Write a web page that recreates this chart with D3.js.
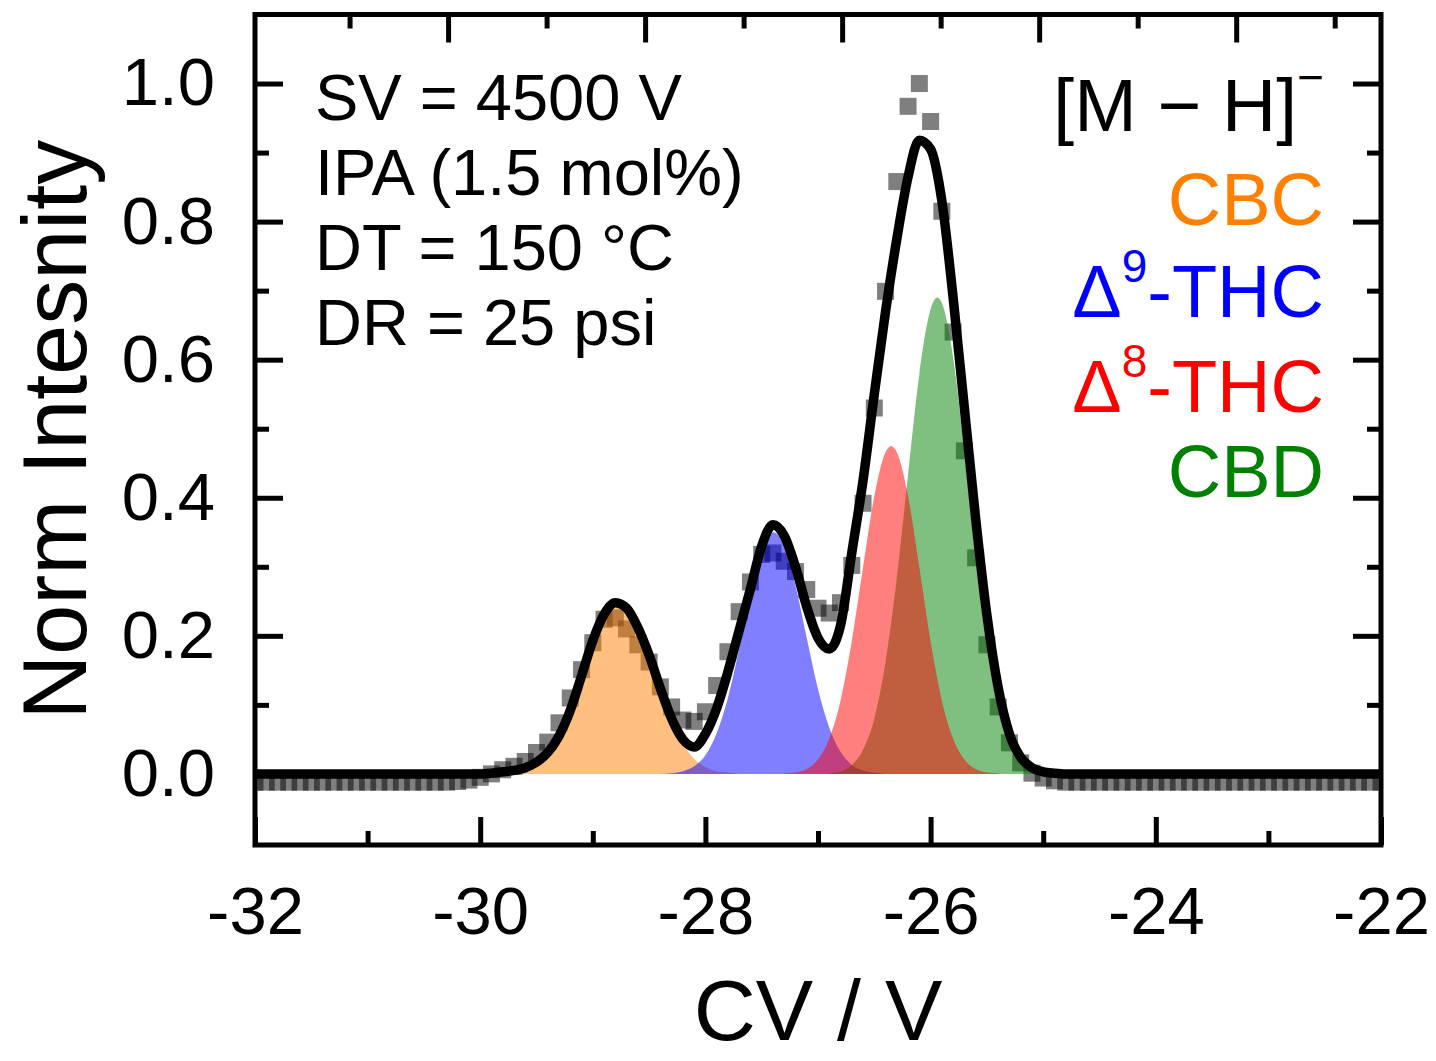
<!DOCTYPE html>
<meta charset="utf-8">
<style>
    body {
        margin: 0;
        background: white;
    }

    svg {
        font-family: "Liberation Sans", Arial, sans-serif;
    }

    .axis path {
        display: none;
    }

    .axis line {
        stroke: black;
        stroke-width: 5;
    }

    .axis text {
        font-size: 67px;
        fill: black;
    }
</style>
<body>
<script src="https://cdn.jsdelivr.net/npm/d3@7"></script>
<script>
    // measured CV scan, 0.1 V steps
    const cvData = [
        -32.0, -31.9, -31.8, -31.7, -31.6, -31.5, -31.4, -31.3, -31.2, -31.1,
        -31.0, -30.9, -30.8, -30.7, -30.6, -30.5, -30.4, -30.3, -30.2, -30.1,
        -30.0, -29.9, -29.8, -29.7, -29.6, -29.5, -29.4, -29.3, -29.2, -29.1,
        -29.0, -28.9, -28.8, -28.7, -28.6, -28.5, -28.4, -28.3, -28.2, -28.1,
        -28.0, -27.9, -27.8, -27.7, -27.6, -27.5, -27.4, -27.3, -27.2, -27.1,
        -27.0, -26.9, -26.8, -26.7, -26.6, -26.5, -26.4, -26.3, -26.2, -26.1,
        -26.0, -25.9, -25.8, -25.7, -25.6, -25.5, -25.4, -25.3, -25.2, -25.1,
        -25.0, -24.9, -24.8, -24.7, -24.6, -24.5, -24.4, -24.3, -24.2, -24.1,
        -24.0, -23.9, -23.8, -23.7, -23.6, -23.5, -23.4, -23.3, -23.2, -23.1,
        -23.0, -22.9, -22.8, -22.7, -22.6, -22.5, -22.4, -22.3, -22.2, -22.1,
        -22.0
    ];
    const intensityData = [
        -0.012, -0.012, -0.012, -0.012, -0.012, -0.012, -0.012, -0.012, -0.012, -0.012,
        -0.012, -0.012, -0.012, -0.012, -0.012, -0.012, -0.012, -0.012, -0.011, -0.009,
        -0.005, 0.000, 0.006, 0.011, 0.018, 0.031, 0.046, 0.074, 0.110, 0.151,
        0.190, 0.224, 0.226, 0.210, 0.187, 0.162, 0.126, 0.097, 0.078, 0.076,
        0.090, 0.128, 0.177, 0.235, 0.278, 0.318, 0.320, 0.308, 0.293, 0.267,
        0.240, 0.233, 0.248, 0.302, 0.392, 0.530, 0.699, 0.858, 0.967, 1.000,
        0.945, 0.815, 0.640, 0.468, 0.313, 0.187, 0.097, 0.045, 0.016, 0.001,
        -0.006, -0.010, -0.012, -0.012, -0.012, -0.012, -0.012, -0.012, -0.012, -0.012,
        -0.012, -0.012, -0.012, -0.012, -0.012, -0.012, -0.012, -0.012, -0.012, -0.012,
        -0.012, -0.012, -0.012, -0.012, -0.012, -0.012, -0.012, -0.012, -0.012, -0.012,
        -0.012
    ];

    // cumulative fit (black line)
    const fitCV = [
        -32.0, -30.0, -29.9, -29.8, -29.7, -29.6, -29.5, -29.4, -29.3, -29.2, -29.1,
        -29.0, -28.9, -28.8, -28.7, -28.6, -28.5, -28.4, -28.3, -28.2, -28.1,
        -28.0, -27.9, -27.8, -27.7, -27.6, -27.5, -27.4, -27.3, -27.2, -27.1,
        -27.0, -26.9, -26.8, -26.7, -26.6, -26.5, -26.4, -26.3, -26.2, -26.1,
        -26.0, -25.9, -25.8, -25.7, -25.6, -25.5, -25.4, -25.3, -25.2, -25.1,
        -25.0, -24.9, -24.8, -22.0
    ];
    const fitIntensity = [
        0.000, 0.000, 0.001, 0.003, 0.005, 0.009, 0.017, 0.031, 0.055, 0.092, 0.142,
        0.193, 0.231, 0.248, 0.240, 0.212, 0.172, 0.124, 0.080, 0.050, 0.039,
        0.058, 0.095, 0.148, 0.208, 0.268, 0.330, 0.361, 0.345, 0.300, 0.242,
        0.197, 0.181, 0.215, 0.320, 0.425, 0.550, 0.670, 0.775, 0.865, 0.918,
        0.905, 0.830, 0.690, 0.530, 0.370, 0.230, 0.125, 0.058, 0.024, 0.009,
        0.003, 0.001, 0.000, 0.000
    ];

    // single component peaks
    const cbcCV = [-29.9, -29.8, -29.7, -29.6, -29.5, -29.4, -29.3, -29.2, -29.1, -29.0, -28.9,
        -28.8, -28.7, -28.6, -28.5, -28.4, -28.3, -28.2, -28.1, -28.0, -27.9, -27.8, -27.7];
    const cbcIntensity = [0.000, 0.001, 0.003, 0.007, 0.017, 0.033, 0.060, 0.098, 0.144, 0.190, 0.227,
        0.245, 0.237, 0.207, 0.163, 0.116, 0.074, 0.043, 0.022, 0.010, 0.004, 0.002, 0.000];

    const d9CV = [-28.4, -28.3, -28.2, -28.1, -28.0, -27.9, -27.8, -27.7, -27.6, -27.5, -27.4,
        -27.3, -27.2, -27.1, -27.0, -26.9, -26.8, -26.7, -26.6, -26.5, -26.4];
    const d9Intensity = [0.000, 0.001, 0.004, 0.011, 0.027, 0.059, 0.110, 0.181, 0.259, 0.322, 0.350,
        0.331, 0.273, 0.197, 0.123, 0.067, 0.032, 0.013, 0.005, 0.002, 0.000];

    const d8CV = [-27.3, -27.2, -27.1, -27.0, -26.9, -26.8, -26.7, -26.6, -26.5, -26.4, -26.35,
        -26.3, -26.2, -26.1, -26.0, -25.9, -25.8, -25.7, -25.6, -25.5, -25.4];
    const d8Intensity = [0.001, 0.002, 0.007, 0.021, 0.051, 0.106, 0.192, 0.299, 0.402, 0.466, 0.475,
        0.466, 0.402, 0.299, 0.192, 0.106, 0.051, 0.021, 0.007, 0.002, 0.001];

    const cbdCV = [-26.9, -26.8, -26.7, -26.6, -26.5, -26.4, -26.3, -26.2, -26.1, -26.0, -25.94,
        -25.9, -25.8, -25.7, -25.6, -25.5, -25.4, -25.3, -25.2, -25.1, -25.0, -24.9];
    const cbdIntensity = [0.001, 0.004, 0.013, 0.035, 0.080, 0.162, 0.284, 0.434, 0.579, 0.673, 0.690,
        0.682, 0.603, 0.465, 0.312, 0.183, 0.093, 0.042, 0.016, 0.005, 0.002, 0.000];

    const xMajorTicks = [-32, -30, -28, -26, -24, -22];
    const xMinorTicks = [-31, -29, -27, -25, -23];
    const yMajorTicks = [0.0, 0.2, 0.4, 0.6, 0.8, 1.0];
    const yMinorTicks = [0.1, 0.3, 0.5, 0.7, 0.9];
    const topMajorTicks = [-30, -28, -26, -24, -22];
    const topMinorTicks = [-31, -29, -27, -25, -23, -21];

    const conditions = ["SV = 4500 V", "IPA (1.5 mol%)", "DT = 150 °C", "DR = 25 psi"];

    const width = 1436;
    const height = 1061;
    const margin = {top: 14.5, right: 55, bottom: 216, left: 255};
    const plotW = width - margin.left - margin.right;
    const plotH = height - margin.top - margin.bottom;

    const svg = d3.select('body')
        .append('svg')
        .attr('width', width)
        .attr('height', height);

    const x = d3.scaleLinear().domain([-32, -22]).range([margin.left, margin.left + plotW]);
    const y = d3.scaleLinear().domain([-0.103, 1.1]).range([margin.top + plotH, margin.top]);
    // the top axis of the original figure runs on its own scale
    const xTop = d3.scaleLinear().domain([-31.96, -20.53]).range([margin.left, margin.left + plotW]);

    svg.append('defs').append('clipPath')
        .attr('id', 'plot-clip')
        .append('rect')
        .attr('x', margin.left)
        .attr('y', margin.top)
        .attr('width', plotW)
        .attr('height', plotH);

    const plot = svg.append('g').attr('clip-path', 'url(#plot-clip)');

    // measured points
    const sq = 17;
    plot.append('g')
        .selectAll('rect')
        .data(cvData.map((cv, i) => [cv, intensityData[i]]))
        .enter().append('rect')
        .attr('x', d => x(d[0]) - sq / 2)
        .attr('y', d => y(d[1]) - sq / 2)
        .attr('width', sq)
        .attr('height', sq)
        .style('fill', 'black')
        .style('fill-opacity', 0.5);

    // filled peaks
    const peaks = [
        {cv: cbcCV, val: cbcIntensity, color: '#FF8000'},
        {cv: d9CV, val: d9Intensity, color: '#0000FF'},
        {cv: cbdCV, val: cbdIntensity, color: '#008000'},
        {cv: d8CV, val: d8Intensity, color: '#FF0000'}
    ];

    const area = d3.area()
        .curve(d3.curveMonotoneX)
        .x(d => x(d[0]))
        .y0(y(0))
        .y1(d => y(d[1]));

    peaks.forEach(p => {
        plot.append('path')
            .datum(p.cv.map((cv, i) => [cv, p.val[i]]))
            .attr('d', area)
            .style('fill', p.color)
            .style('fill-opacity', 0.5)
            .style('stroke', 'none');
    });

    const line = d3.line()
        .curve(d3.curveMonotoneX)
        .x(d => x(d[0]))
        .y(d => y(d[1]));

    plot.append('path')
        .datum(fitCV.map((cv, i) => [cv, fitIntensity[i]]))
        .attr('d', line)
        .style('fill', 'none')
        .style('stroke', 'black')
        .style('stroke-width', 9.5)
        .style('stroke-linejoin', 'round');

    // axes, ticks point inward
    const fmt = d => String(d);
    const yFmt = d => d.toFixed(1);

    svg.append('g')
        .attr('class', 'axis')
        .attr('transform', 'translate(0,' + (margin.top + plotH) + ')')
        .call(d3.axisBottom(x).tickValues(xMajorTicks).tickSize(-28).tickPadding(41).tickFormat(fmt));
    svg.append('g')
        .attr('class', 'axis')
        .attr('transform', 'translate(0,' + (margin.top + plotH) + ')')
        .call(d3.axisBottom(x).tickValues(xMinorTicks).tickSize(-14).tickFormat(''));

    svg.append('g')
        .attr('class', 'axis')
        .attr('transform', 'translate(' + margin.left + ',0)')
        .call(d3.axisLeft(y).tickValues(yMajorTicks).tickSize(-28).tickPadding(40).tickFormat(yFmt));
    svg.append('g')
        .attr('class', 'axis')
        .attr('transform', 'translate(' + margin.left + ',0)')
        .call(d3.axisLeft(y).tickValues(yMinorTicks).tickSize(-14).tickFormat(''));

    svg.append('g')
        .attr('class', 'axis')
        .attr('transform', 'translate(' + (margin.left + plotW) + ',0)')
        .call(d3.axisRight(y).tickValues(yMajorTicks).tickSize(-28).tickFormat(''));
    svg.append('g')
        .attr('class', 'axis')
        .attr('transform', 'translate(' + (margin.left + plotW) + ',0)')
        .call(d3.axisRight(y).tickValues(yMinorTicks).tickSize(-14).tickFormat(''));

    svg.append('g')
        .attr('class', 'axis')
        .attr('transform', 'translate(0,' + margin.top + ')')
        .call(d3.axisTop(xTop).tickValues(topMajorTicks).tickSize(-28).tickFormat(''));
    svg.append('g')
        .attr('class', 'axis')
        .attr('transform', 'translate(0,' + margin.top + ')')
        .call(d3.axisTop(xTop).tickValues(topMinorTicks).tickSize(-14).tickFormat(''));

    // frame
    svg.append('rect')
        .attr('x', margin.left)
        .attr('y', margin.top)
        .attr('width', plotW)
        .attr('height', plotH)
        .style('fill', 'none')
        .style('stroke', 'black')
        .style('stroke-width', 5);

    // axis titles
    svg.append('text')
        .attr('x', margin.left + plotW / 2)
        .attr('y', 1040)
        .style('text-anchor', 'middle')
        .style('font-size', '86px')
        .text('CV / V');

    svg.append('text')
        .attr('transform', 'translate(86,' + (margin.top + plotH / 2) + ') rotate(-90)')
        .style('text-anchor', 'middle')
        .style('font-size', '90px')
        .text('Norm Intesnity');

    // run conditions
    svg.append('g')
        .selectAll('text')
        .data(conditions)
        .enter().append('text')
        .attr('x', 315)
        .attr('y', (d, i) => 120 + i * 75)
        .style('font-size', '65px')
        .text(d => d);

    // legend
    const legendX = 1324;
    const title = svg.append('text')
        .attr('x', legendX)
        .attr('y', 131)
        .style('text-anchor', 'end')
        .style('font-size', '75px');
    title.append('tspan').text('[M \u2212 H]');
    title.append('tspan').attr('dy', -38).style('font-size', '46px').text('\u2212');

    const legendItems = [
        {name: 'CBC', sup: null, color: '#FF8000', y: 225},
        {name: '-THC', sup: '9', color: '#0000FF', y: 317},
        {name: '-THC', sup: '8', color: '#FF0000', y: 412},
        {name: 'CBD', sup: null, color: '#008000', y: 497}
    ];

    legendItems.forEach(item => {
        const t = svg.append('text')
            .attr('x', legendX)
            .attr('y', item.y)
            .style('text-anchor', 'end')
            .style('font-size', '74px')
            .style('fill', item.color);
        if (item.sup) {
            t.append('tspan').text('\u0394');
            t.append('tspan').attr('dy', -35).style('font-size', '46px').text(item.sup);
            t.append('tspan').attr('dy', 35).text(item.name);
        } else {
            t.text(item.name);
        }
    });
</script>
</body>
